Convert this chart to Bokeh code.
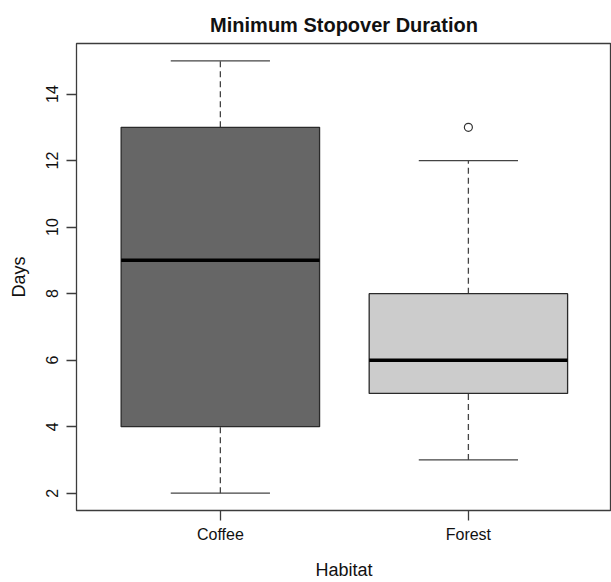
from bokeh.plotting import figure
from bokeh.models import Range1d, FixedTicker
from bokeh.embed import file_html
from bokeh.resources import INLINE

# Data
habitats = ["Coffee", "Forest"]
whisker_low = [2, 3]
q1 = [4, 5]
median = [9, 6]
q3 = [13, 8]
whisker_high = [15, 12]
outlier_habitat = ["Forest"]
outlier_days = [13]
y_ticks = [2, 4, 6, 8, 10, 12, 14]

pos = [i + 1 for i in range(len(habitats))]
out_pos = [habitats.index(h) + 1 for h in outlier_habitat]
fills = ["#666666", "#cccccc"]

FONT = "Liberation Sans"

p = figure(width=611, height=582, output_backend="svg", toolbar_location=None,
           x_range=Range1d(0.42, 2.577), y_range=Range1d(1.48, 15.52),
           min_border_left=76, min_border_right=0, min_border_top=43, min_border_bottom=71,
           title="Minimum Stopover Duration")

p.title.align = "center"
p.title.text_font = FONT
p.title.text_font_size = "20px"
p.title.text_font_style = "bold"
p.title.text_color = "#111111"
p.title.offset = 0
p.title.standoff = 16

p.grid.visible = False
p.outline_line_color = "#3c3c3c"
p.outline_line_width = 1.3
p.background_fill_color = "white"
p.border_fill_color = "white"

# whiskers (dashed)
p.segment(x0=pos, x1=pos, y0=q3, y1=whisker_high, line_color="#444444", line_width=1.3, line_dash="6 4")
p.segment(x0=pos, x1=pos, y0=whisker_low, y1=q1, line_color="#444444", line_width=1.3, line_dash="6 4")
# caps
p.segment(x0=[x - 0.2 for x in pos], x1=[x + 0.2 for x in pos], y0=whisker_high, y1=whisker_high,
          line_color="#444444", line_width=1.3)
p.segment(x0=[x - 0.2 for x in pos], x1=[x + 0.2 for x in pos], y0=whisker_low, y1=whisker_low,
          line_color="#444444", line_width=1.3)
# boxes
p.vbar(x=pos, width=0.8, top=q3, bottom=q1, fill_color=fills, line_color="#2a2a2a", line_width=1.3)
# medians
p.segment(x0=[x - 0.4 for x in pos], x1=[x + 0.4 for x in pos], y0=median, y1=median,
          line_color="black", line_width=3.5)
# outliers
p.scatter(x=out_pos, y=outlier_days, marker="circle", size=8, fill_color=None,
          line_color="#333333", line_width=1.2)

# x axis
xa = p.xaxis[0]
xa.ticker = FixedTicker(ticks=pos)
xa.major_label_overrides = {x: h for x, h in zip(pos, habitats)}
xa.axis_label = "Habitat"
xa.minor_tick_line_color = None

ya = p.yaxis[0]
ya.ticker = FixedTicker(ticks=y_ticks)
ya.axis_label = "Days"
ya.major_label_orientation = "vertical"
ya.minor_tick_line_color = None

for ax in (xa, ya):
    ax.axis_line_color = None
    ax.major_tick_line_color = "#3c3c3c"
    ax.major_tick_line_width = 1.3
    ax.major_tick_out = 10
    ax.major_tick_in = 0
    ax.major_label_text_font = FONT
    ax.major_label_text_font_size = "16px"
    ax.major_label_text_color = "#111111"
    ax.axis_label_text_font = FONT
    ax.axis_label_text_font_size = "18px"
    ax.axis_label_text_font_style = "normal"
    ax.axis_label_text_color = "#111111"

xa.major_label_standoff = 5
xa.axis_label_standoff = 14
ya.major_label_standoff = 8
ya.axis_label_standoff = 15

open("out.html", "w").write(file_html(p, INLINE))
